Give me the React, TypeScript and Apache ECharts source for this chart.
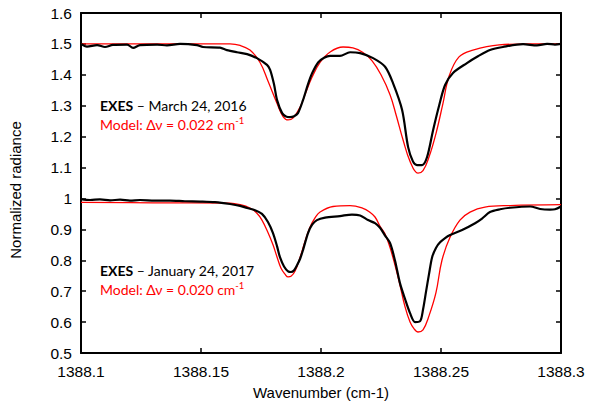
import React, { useEffect, useRef } from "react";
import * as echarts from "echarts";

// Upper spectrum (March 24, 2016) — observed
const exes2016X = [1388.1, 1388.1025, 1388.1067, 1388.11, 1388.1133, 1388.1192, 1388.1217, 1388.1246, 1388.1317, 1388.1358, 1388.1413, 1388.1483, 1388.1508, 1388.1579, 1388.1608, 1388.165, 1388.1692, 1388.1733, 1388.1775, 1388.1788, 1388.1804, 1388.1817, 1388.1838, 1388.1854, 1388.1871, 1388.1888, 1388.1904, 1388.1925, 1388.1946, 1388.1963, 1388.1988, 1388.2013, 1388.2038, 1388.2079, 1388.2121, 1388.2163, 1388.2217, 1388.2267, 1388.23, 1388.2338, 1388.2363, 1388.2383, 1388.24, 1388.2421, 1388.2442, 1388.2467, 1388.2492, 1388.2517, 1388.255, 1388.2608, 1388.2654, 1388.2704, 1388.2758, 1388.2842, 1388.29, 1388.2942, 1388.2975, 1388.3];
const exes2016Y = [1.5, 1.491, 1.496, 1.49, 1.497, 1.498, 1.487, 1.496, 1.498, 1.495, 1.5, 1.496, 1.49, 1.488, 1.48, 1.473, 1.467, 1.454, 1.432, 1.416, 1.37, 1.318, 1.276, 1.265, 1.263, 1.266, 1.276, 1.318, 1.37, 1.405, 1.44, 1.455, 1.461, 1.461, 1.473, 1.47, 1.454, 1.426, 1.373, 1.286, 1.166, 1.12, 1.108, 1.108, 1.134, 1.221, 1.3, 1.367, 1.406, 1.438, 1.46, 1.48, 1.49, 1.499, 1.495, 1.5, 1.498, 1.5];

// Upper model (dv = 0.022)
const model2016X = [1388.1, 1388.13, 1388.1621, 1388.1663, 1388.1704, 1388.1746, 1388.1779, 1388.1817, 1388.1842, 1388.1863, 1388.1883, 1388.1913, 1388.1938, 1388.1963, 1388.1996, 1388.2038, 1388.2092, 1388.2133, 1388.2175, 1388.2213, 1388.225, 1388.2288, 1388.2313, 1388.2342, 1388.2371, 1388.2404, 1388.2425, 1388.245, 1388.2479, 1388.2508, 1388.2533, 1388.2575, 1388.2633, 1388.2742, 1388.2871, 1388.3];
const model2016Y = [1.5, 1.5, 1.5, 1.495, 1.48, 1.44, 1.38, 1.307, 1.265, 1.254, 1.26, 1.296, 1.345, 1.393, 1.44, 1.474, 1.49, 1.487, 1.472, 1.445, 1.4, 1.335, 1.27, 1.189, 1.12, 1.082, 1.09, 1.134, 1.21, 1.307, 1.394, 1.458, 1.48, 1.497, 1.5, 1.5];

// Lower spectrum (January 24, 2017) — observed
const exes2017X = [1388.1, 1388.1038, 1388.1079, 1388.1121, 1388.1163, 1388.1204, 1388.1246, 1388.1308, 1388.1371, 1388.1433, 1388.1496, 1388.1558, 1388.1621, 1388.1663, 1388.1692, 1388.1725, 1388.1754, 1388.1779, 1388.18, 1388.1817, 1388.1829, 1388.1846, 1388.1863, 1388.1875, 1388.1888, 1388.19, 1388.1913, 1388.1925, 1388.1946, 1388.1963, 1388.1983, 1388.2017, 1388.2079, 1388.2129, 1388.2163, 1388.2196, 1388.2225, 1388.2246, 1388.2267, 1388.2288, 1388.2308, 1388.2329, 1388.235, 1388.2371, 1388.2392, 1388.2413, 1388.2425, 1388.2438, 1388.245, 1388.2463, 1388.2479, 1388.2496, 1388.2517, 1388.2538, 1388.2588, 1388.2642, 1388.2671, 1388.2704, 1388.2746, 1388.2788, 1388.2871, 1388.2913, 1388.2954, 1388.2975, 1388.3];
const exes2017Y = [0.998, 0.995, 0.997, 0.994, 0.996, 0.993, 0.995, 0.993, 0.993, 0.991, 0.99, 0.988, 0.982, 0.976, 0.969, 0.962, 0.95, 0.924, 0.888, 0.845, 0.81, 0.78, 0.764, 0.762, 0.768, 0.784, 0.805, 0.833, 0.888, 0.915, 0.93, 0.938, 0.943, 0.948, 0.945, 0.93, 0.92, 0.905, 0.88, 0.855, 0.8, 0.726, 0.675, 0.629, 0.6, 0.603, 0.64, 0.7, 0.755, 0.81, 0.84, 0.858, 0.872, 0.882, 0.898, 0.92, 0.935, 0.956, 0.965, 0.97, 0.974, 0.966, 0.964, 0.965, 0.974];

// Lower model (dv = 0.020)
const model2017X = [1388.1, 1388.13, 1388.1621, 1388.1663, 1388.1704, 1388.1733, 1388.1754, 1388.1779, 1388.18, 1388.1817, 1388.1833, 1388.185, 1388.1863, 1388.1875, 1388.1892, 1388.1913, 1388.1933, 1388.1954, 1388.1975, 1388.1996, 1388.205, 1388.2121, 1388.2175, 1388.2204, 1388.2225, 1388.2246, 1388.2267, 1388.2288, 1388.2308, 1388.2329, 1388.235, 1388.2371, 1388.2388, 1388.2404, 1388.2425, 1388.245, 1388.2479, 1388.2504, 1388.2538, 1388.2579, 1388.2621, 1388.2683, 1388.2788, 1388.3];
const model2017Y = [0.987, 0.986, 0.985, 0.98, 0.969, 0.952, 0.93, 0.89, 0.85, 0.81, 0.775, 0.755, 0.746, 0.748, 0.765, 0.81, 0.86, 0.907, 0.937, 0.956, 0.974, 0.977, 0.968, 0.955, 0.94, 0.91, 0.885, 0.84, 0.785, 0.72, 0.65, 0.6, 0.578, 0.568, 0.575, 0.62, 0.695, 0.8, 0.875, 0.93, 0.956, 0.972, 0.977, 0.98];

const xTicks = { min: 1388.1, max: 1388.3, interval: 0.05 };
const yTicks = { min: 0.5, max: 1.6, interval: 0.1 };

const zip = (xs: number[], ys: number[]) => xs.map((x, i) => [x, ys[i]]);

const labelFont = "Arial";
const noteFont = "Lato";

export default function App() {
  const ref = useRef<HTMLDivElement>(null);
  useEffect(() => {
    if (!ref.current) return;
    const chart = echarts.init(ref.current, undefined, { renderer: "svg" });
    const axisLine = { show: true, lineStyle: { color: "#000", width: 2 } };
    const axisTick = { show: true, inside: true, length: 5, lineStyle: { color: "#000", width: 1.5 } };
    const noteRich = {
      b: { fontFamily: noteFont, fontSize: 14, fontWeight: "bold" as const, fill: "#000" },
      n: { fontFamily: noteFont, fontSize: 14, fill: "#000" },
      r: { fontFamily: noteFont, fontSize: 14, fill: "#ff0000" },
      sup: { fontFamily: noteFont, fontSize: 9.5, fill: "#ff0000", padding: [0, 0, 7, 0] },
    };
    chart.setOption({
      animation: false,
      backgroundColor: "#fff",
      textStyle: { fontFamily: labelFont },
      grid: { left: 81, right: 29, top: 13, bottom: 54 },
      xAxis: [
        {
          type: "value",
          ...xTicks,
          position: "bottom",
          axisLine,
          axisTick,
          splitLine: { show: false },
          axisLabel: {
            color: "#000",
            fontFamily: labelFont,
            fontSize: 15.5,
            margin: 10,
            formatter: (v: number) => String(Math.round(v * 100) / 100),
          },
          name: "Wavenumber (cm-1)",
          nameLocation: "middle",
          nameGap: 32,
          nameTextStyle: { color: "#000", fontFamily: labelFont, fontSize: 15 },
        },
        {
          type: "value",
          ...xTicks,
          position: "top",
          axisLine,
          axisTick,
          splitLine: { show: false },
          axisLabel: { show: false },
        },
      ],
      yAxis: [
        {
          type: "value",
          ...yTicks,
          position: "left",
          axisLine,
          axisTick,
          splitLine: { show: false },
          axisLabel: {
            color: "#000",
            fontFamily: labelFont,
            fontSize: 15.5,
            margin: 9,
            formatter: (v: number) => String(Math.round(v * 10) / 10),
          },
        },
        {
          type: "value",
          ...yTicks,
          position: "right",
          axisLine,
          axisTick,
          splitLine: { show: false },
          axisLabel: { show: false },
        },
      ],
      graphic: [
        {
          type: "text",
          x: 15,
          y: 190,
          rotation: Math.PI / 2,
          style: {
            text: "Normalized radiance",
            fontFamily: labelFont,
            fontSize: 15,
            fill: "#000",
            align: "center",
            verticalAlign: "middle",
          },
        },
        {
          type: "text",
          x: 100,
          y: 105,
          style: {
            text: "{b|EXES}{n| – March 24, 2016}",
            rich: noteRich,
            verticalAlign: "middle",
          },
        },
        {
          type: "text",
          x: 100,
          y: 124,
          style: {
            text: "{r|Model: Δν = 0.022 cm}{sup|-1}",
            rich: noteRich,
            verticalAlign: "middle",
          },
        },
        {
          type: "text",
          x: 100,
          y: 270,
          style: {
            text: "{b|EXES}{n| – January 24, 2017}",
            rich: noteRich,
            verticalAlign: "middle",
          },
        },
        {
          type: "text",
          x: 100,
          y: 289,
          style: {
            text: "{r|Model: Δν = 0.020 cm}{sup|-1}",
            rich: noteRich,
            verticalAlign: "middle",
          },
        },
      ],
      series: [
        {
          type: "line",
          data: zip(exes2016X, exes2016Y),
          showSymbol: false,
          smooth: 0.3,
          lineStyle: { color: "#000", width: 2.2 },
          z: 3,
        },
        {
          type: "line",
          data: zip(model2016X, model2016Y),
          showSymbol: false,
          smooth: 0.4,
          lineStyle: { color: "#ff0000", width: 1.3 },
          z: 2,
        },
        {
          type: "line",
          data: zip(exes2017X, exes2017Y),
          showSymbol: false,
          smooth: 0.3,
          lineStyle: { color: "#000", width: 2.2 },
          z: 3,
        },
        {
          type: "line",
          data: zip(model2017X, model2017Y),
          showSymbol: false,
          smooth: 0.4,
          lineStyle: { color: "#ff0000", width: 1.3 },
          z: 2,
        },
      ],
    });
    return () => chart.dispose();
  }, []);
  return <div ref={ref} style={{ width: 590, height: 407, position: "absolute", left: 0, top: 0 }} />;
}
